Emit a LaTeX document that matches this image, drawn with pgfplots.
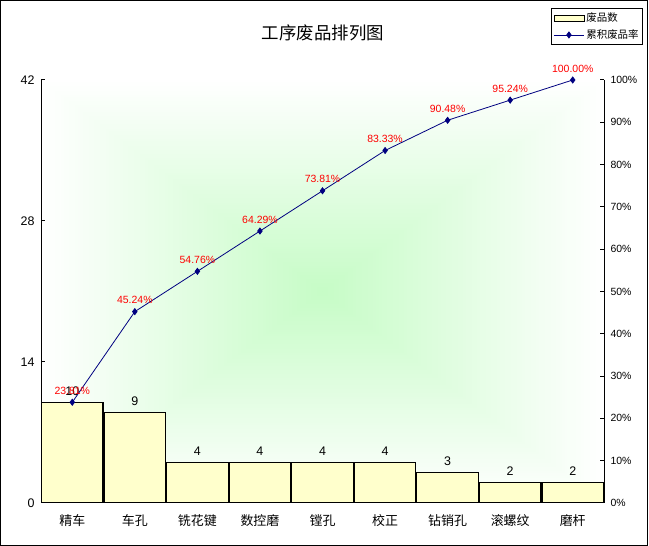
\documentclass[border=0pt]{standalone}
\usepackage{pgfplots}
\pgfplotsset{compat=1.18}
\usepackage{fontspec}
\setmainfont{Liberation Sans}
\newfontfamily\cjk{Noto Sans CJK SC}
\definecolor{barfill}{RGB}{255,255,204}
\definecolor{gc}{RGB}{198,252,198}
\definecolor{navy}{RGB}{0,0,128}
\begin{document}
\begin{tikzpicture}[x=1bp,y=1bp]
\useasboundingbox (0,0) rectangle (649,546);
% background frame
\draw[line width=1bp] (0.5,0.5) rectangle (647.5,545.5);
% rectangular gradient in plot area (box 41..604 x 43..466)
\foreach \i in {0,...,100}{
  \pgfmathsetmacro\t{\i/100}
  \pgfmathsetmacro\p{100*\t}
  \pgfmathsetmacro\xa{41+\t*281.5}
  \pgfmathsetmacro\xb{604-\t*281.5}
  \pgfmathsetmacro\ya{43+\t*211.5}
  \pgfmathsetmacro\yb{466-\t*211.5}
  \fill[gc!\p!white] (\xa,\ya) rectangle (\xb,\yb);
}
\node[font=\cjk\fontsize{17.5}{20}\selectfont] at (323,513) {工序废品排列图};
\begin{axis}[
  at={(41bp,43bp)}, anchor=south west,
  scale only axis, width=563bp, height=423bp,
  xmin=-0.5, xmax=8.5, ymin=0, ymax=42,
  enlargelimits=false,
  axis x line=bottom, axis y line=left,
  axis line style={-, line width=1bp},
  xtick={0,...,8},
  xticklabels={精车,车孔,铣花键,数控磨,镗孔,校正,钻销孔,滚螺纹,磨杆},
  xticklabel style={font=\cjk\fontsize{13}{15}\selectfont, yshift=-4bp},
  major x tick style={draw=none},
  ytick={0,14,28,42},
  yticklabel style={font=\fontsize{12.5}{14}\selectfont, xshift=-3bp},
  tick align=inside,
  major tick length=4bp,
  tick style={line width=1bp, black},
  /pgf/number format/assume math mode=true,
  ybar, bar width=0.985,
  nodes near coords,
  nodes near coords style={font=\fontsize{12.5}{14}\selectfont, black, yshift=3bp},
]
\addplot[fill=barfill, draw=black, line width=1.2bp] coordinates {
  (0,10) (1,9) (2,4) (3,4) (4,4) (5,4) (6,3) (7,2) (8,2)
};
\end{axis}
\begin{axis}[
  at={(41bp,43bp)}, anchor=south west,
  scale only axis, width=563bp, height=423bp,
  xmin=-0.5, xmax=8.5, ymin=0, ymax=100,
  enlargelimits=false,
  axis x line=none, axis y line=right,
  axis line style={-, line width=1bp},
  ytick={0,10,...,100},
  yticklabel={\pgfmathprintnumber{\tick}\%},
  yticklabel style={font=\fontsize{10.5}{12}\selectfont, xshift=3bp},
  tick align=inside,
  major tick length=4bp,
  tick style={line width=1bp, black},
  /pgf/number format/assume math mode=true,
  legend style={at={(1.0693,1.170)}, anchor=north east, draw=black, line width=0.8bp,
    font=\cjk\fontsize{10.5}{12}\selectfont, inner xsep=2bp, inner ysep=2.5bp, row sep=2.5bp,
    cells={anchor=west}},
]
\addlegendimage{legend image code/.code={\draw[fill=barfill,draw=black,line width=0.8bp] (0bp,-2.8bp) rectangle (30bp,2.8bp);}}
\addlegendentry{废品数}
\addplot[color=navy, line width=0.8bp, mark=diamond*, mark size=3bp,
  mark options={fill=navy},
  point meta=y,
  nodes near coords={\pgfmathprintnumber[fixed,fixed zerofill,precision=2]{\pgfplotspointmeta}\%},
  nodes near coords style={font=\fontsize{10.5}{12}\selectfont, red, yshift=4bp},
  legend image code/.code={\draw[navy,line width=0.8bp] (0bp,0bp) -- (30bp,0bp);
    \fill[navy] (15bp,0bp) +(0,3bp) -- +(2.2bp,0) -- +(0,-3bp) -- +(-2.2bp,0) -- cycle;}
] coordinates {
  (0,23.81) (1,45.24) (2,54.76) (3,64.29) (4,73.81) (5,83.33) (6,90.48) (7,95.24) (8,100)
};
\addlegendentry{累积废品率}
\end{axis}
\end{tikzpicture}
\end{document}
